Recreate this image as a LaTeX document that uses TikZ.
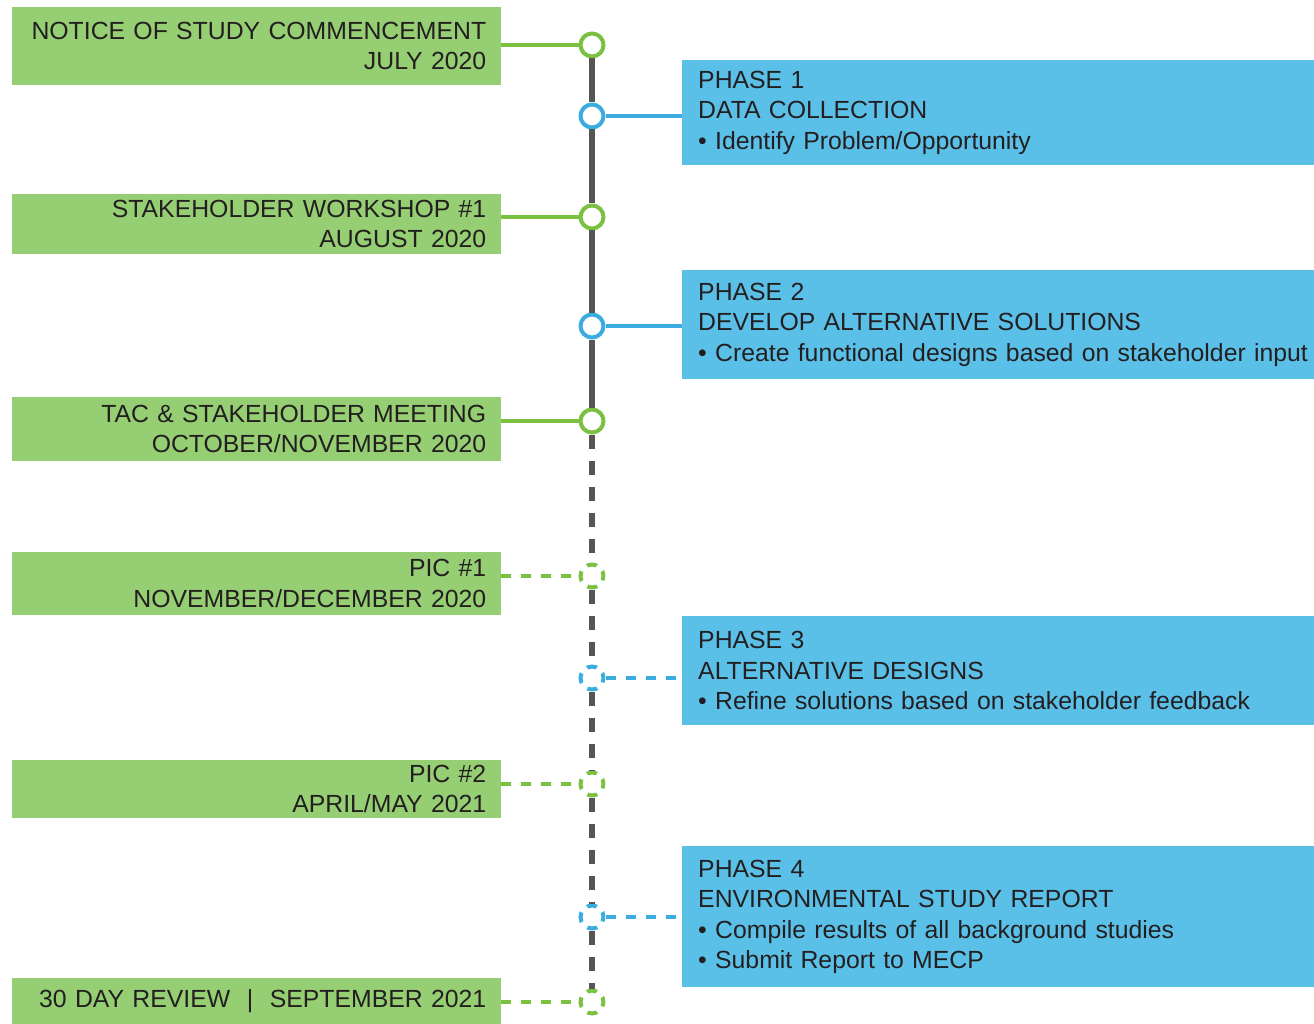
\documentclass[tikz,border=0pt]{standalone}
\usepackage{fontspec}
\setmainfont{Liberation Sans}

\definecolor{boxgreen}{RGB}{150,206,115}
\definecolor{linegreen}{RGB}{122,193,66}
\definecolor{boxblue}{RGB}{91,192,232}
\definecolor{lineblue}{RGB}{58,172,224}
\definecolor{spinegray}{RGB}{85,85,85}
\definecolor{textgray}{RGB}{35,31,32}

\tikzset{
	boxtext/.style={text=textgray, inner ysep=0pt, anchor=north west,
		font=\fontsize{24.8}{30.5}\selectfont},
	greenbox/.style={boxtext, fill=boxgreen, minimum width=489pt,
		text width=459pt, inner xsep=15pt, align=right},
	bluebox/.style={boxtext, fill=boxblue, minimum width=648pt,
		text width=616pt, inner xsep=16pt, align=left},
	dot/.style={circle, line width=4pt, fill=white, minimum size=23pt, inner sep=0pt},
	gdot/.style={dot, draw=linegreen},
	bdot/.style={dot, draw=lineblue},
	dotdash/.style={dash pattern=on 10pt off 8.07pt, dash phase=5pt},
	gline/.style={draw=linegreen, line width=4pt},
	bline/.style={draw=lineblue, line width=4pt},
	linedash/.style={dash pattern=on 10pt off 10pt},
	spine/.style={draw=spinegray, line width=6pt},
	spinedash/.style={dash pattern=on 14pt off 12pt},
}

\begin{document}
\begin{tikzpicture}[x=1pt, y=-1pt]
	\useasboundingbox (0,0) rectangle (1314,1024);
	
	% Milestones
	\node[greenbox, minimum height=78pt] (m1) at (12,7)
	      {NOTICE OF STUDY COMMENCEMENT\\JULY 2020};
	\node[greenbox, minimum height=60pt] (m2) at (12,194)
	      {STAKEHOLDER WORKSHOP \#1\\AUGUST 2020};
	\node[greenbox, minimum height=64pt] (m3) at (12,397)
	      {TAC \& STAKEHOLDER MEETING\\OCTOBER/NOVEMBER 2020};
	\node[greenbox, minimum height=63pt] (m4) at (12,552)
	      {PIC \#1\\NOVEMBER/DECEMBER 2020};
	\node[greenbox, minimum height=58pt] (m5) at (12,760)
	      {PIC \#2\\APRIL/MAY 2021};
	\node[greenbox, minimum height=46pt] (m6) at (12,978)
	      {30 DAY REVIEW~~|~~SEPTEMBER 2021};
	
	% Phases
	\node[bluebox, minimum height=105pt] (p1) at (682,60)
	      {PHASE 1\\DATA COLLECTION\\• Identify Problem/Opportunity};
	\node[bluebox, minimum height=109pt] (p2) at (682,270)
	      {PHASE 2\\DEVELOP ALTERNATIVE SOLUTIONS\\• Create functional designs based on stakeholder input};
	\node[bluebox, minimum height=109pt] (p3) at (682,616)
	      {PHASE 3\\ALTERNATIVE DESIGNS\\• Refine solutions based on stakeholder feedback};
	\node[bluebox, minimum height=141pt] (p4) at (682,846)
	      {PHASE 4\\ENVIRONMENTAL STUDY REPORT\\• Compile results of all background studies\\• Submit Report to MECP};
	
	% Dots
	\foreach \n/\y in {g1/45, g2/217, g3/421}
		\node[gdot] (\n) at (592,\y) {};
	\foreach \n/\y in {g4/576, g5/784, g6/1002}
		\node[gdot, dotdash] (\n) at (592,\y) {};
	\foreach \n/\y in {b1/116, b2/326}
		\node[bdot] (\n) at (592,\y) {};
	\foreach \n/\y in {b3/678, b4/917}
		\node[bdot, dotdash] (\n) at (592,\y) {};
	
	% Timeline
	\foreach \a/\b in {g1/b1, b1/g2, g2/b2, b2/g3}
		\draw[spine] (\a.south) -- (\b.north);
	\foreach \a/\b in {g3/g4, g4/b3, b3/g5, g5/b4, b4/g6}
		\draw[spine, spinedash] (\a.south) -- (\b.north);
	
	% Links
	\foreach \m/\g in {m1/g1, m2/g2, m3/g3}
		\draw[gline] (\m.east |- \g) -- (\g.west);
	\foreach \m/\g in {m4/g4, m5/g5, m6/g6}
		\draw[gline, linedash] (\m.east |- \g) -- (\g.west);
	\foreach \g/\p in {b1/p1, b2/p2}
		\draw[bline] (\g.east) -- (\p.west |- \g);
	\foreach \g/\p in {b3/p3, b4/p4}
		\draw[bline, linedash] (\g.east) -- (\p.west |- \g);
\end{tikzpicture}
\end{document}
